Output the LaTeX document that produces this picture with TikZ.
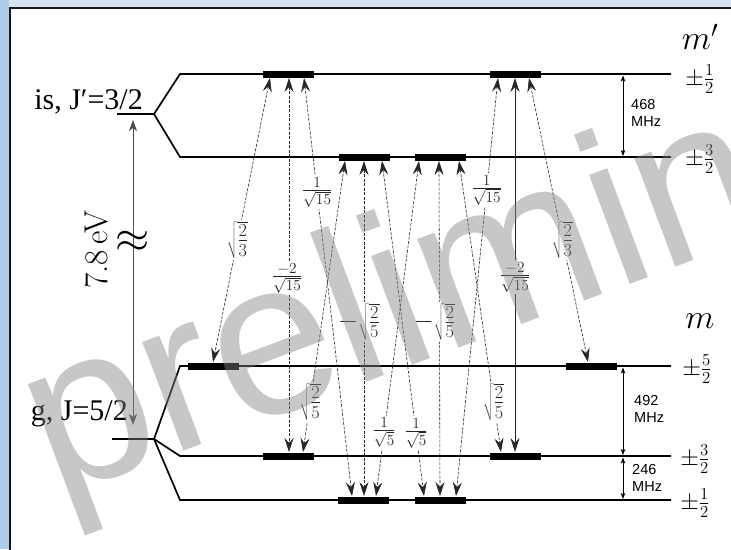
\RequirePackage{fix-cm}
\documentclass[tikz,border=0pt]{standalone}
\usepackage{fontspec}
\newfontfamily\serifT{Liberation Serif}
\newfontfamily\sansH{Liberation Sans}
\usetikzlibrary{arrows.meta,calc}
\definecolor{bgleft}{HTML}{B0CDE8}
\definecolor{bgtop}{HTML}{D6E3F0}
\tikzset{
  lvl/.style={line width=1.7pt},
  barbox/.style={fill=black, draw=none, minimum width=51pt, minimum height=7pt, inner sep=0pt, outer sep=0pt},
  cgtip/.tip={Stealth[length=14pt,width=9pt,inset=5pt]},
  smalltip/.tip={Stealth[length=6pt,width=4.5pt,inset=1.5pt]},
  midtip/.tip={Stealth[length=11pt,width=8pt,inset=3pt]},
  trans/.style={dash pattern=on 3pt off 1.5pt, line width=0.6pt, black!85, cgtip-cgtip},
  transsolid/.style={line width=0.6pt, black!85, cgtip-cgtip},
  cg/.style={fill=white, inner sep=2pt, font=\fontsize{22}{26}\selectfont},
  cgroot/.style={fill=white, inner sep=2pt, font=\fontsize{26}{30}\selectfont},
  mlabel/.style={font=\fontsize{24}{28}\selectfont, inner sep=0pt},
  mhead/.style={font=\fontsize{34}{36}\selectfont, inner sep=0pt},
  freq/.style={line width=0.7pt, smalltip-smalltip},
  freqlabel/.style={font=\sansH\fontsize{14.5}{17}\selectfont, align=left, anchor=west, inner sep=0pt},
  statelabel/.style={font=\serifT\fontsize{30}{32}\selectfont, anchor=base east, inner sep=0pt},
}
\begin{document}
\begin{tikzpicture}[x=1pt,y=-1pt]
\useasboundingbox (0,0) rectangle (731,549);
\begin{scope}
\clip (0,0) rectangle (731,549);
\fill[bgtop] (0,0) rectangle (731,549);
\fill[bgleft] (0,0) rectangle (9,549);
\filldraw[fill=white, draw=black!90, line width=1.5pt] (9.75,7.75) rectangle (760,580);
\end{scope}

% excited state levels
\coordinate (isA) at (117,114);
\coordinate (isB) at (154,114);
\coordinate (e1L) at (180,74);  \coordinate (e1R) at (671,74);
\coordinate (e2L) at (180,157); \coordinate (e2R) at (671,157);
\draw[lvl] (isA) -- (isB) -- (e1L) -- (e1R);
\draw[lvl] (isB) -- (e2L) -- (e2R);

% ground state levels
\coordinate (gA) at (112,439);
\coordinate (gB) at (154,439);
\coordinate (g1L) at (180,366); \coordinate (g1R) at (671,366);
\coordinate (g2L) at (180,456); \coordinate (g2R) at (671,456);
\coordinate (g3L) at (180,500); \coordinate (g3R) at (671,500);
\draw[lvl] (gA) -- (gB) -- (g1L) -- (g1R);
\draw[lvl] (gB) -- (g2L) -- (g2R);
\draw[lvl] (gB) -- (g3L) -- (g3R);

% bars
\node[barbox] (b1) at (288.5,74) {};
\node[barbox] (b2) at (515.5,74) {};
\node[barbox] (b3) at (364,157) {};
\node[barbox] (b4) at (440.5,157) {};
\node[barbox] (b5) at (213.5,366) {};
\node[barbox] (b6) at (591,366) {};
\node[barbox] (b7) at (288.5,456) {};
\node[barbox] (b8) at (515.5,456) {};
\node[barbox] (b9) at (363.5,500) {};
\node[barbox] (b10) at (440,500) {};

% transition end points
\coordinate (At) at (270,78);  \coordinate (Ab) at (213,362);
\coordinate (Bt) at (289,78);  \coordinate (Bb) at (289,452);
\coordinate (Ct) at (304,78);  \coordinate (Cb) at (352,496);
\coordinate (Dt) at (345,161); \coordinate (Db) at (303,452);
\coordinate (Et) at (364,161); \coordinate (Eb) at (364,496);
\coordinate (Ft) at (382,161); \coordinate (Fb) at (424,496);
\coordinate (Gt) at (419,161); \coordinate (Gb) at (376,496);
\coordinate (Ht) at (439,161); \coordinate (Hb) at (440,496);
\coordinate (It) at (459,161); \coordinate (Ib) at (501,452);
\coordinate (Jt) at (498,78);  \coordinate (Jb) at (456,496);
\coordinate (Kt) at (515,78);  \coordinate (Kb) at (515,452);
\coordinate (Lt) at (529,78);  \coordinate (Lb) at (588,362);

\draw[trans] (At) -- node[cgroot, pos=0.570] {$\sqrt{\frac{2}{3}}$} (Ab);
\draw[trans] (Bt) -- node[cg, pos=0.535, xshift=-2pt] {$\frac{-2}{\sqrt{15}}$} (Bb);
\draw[trans] (Ct) -- node[cg, pos=0.273] {$\frac{1}{\sqrt{15}}$} (Cb);
\draw[trans] (Dt) -- node[cgroot, pos=0.828] {$\sqrt{\frac{2}{5}}$} (Db);
\draw[trans] (Et) -- node[cgroot, pos=0.48, xshift=-5pt] {$-\sqrt{\frac{2}{5}}$} (Eb);
\draw[trans] (Ft) -- node[cg, pos=0.812] {$\frac{1}{\sqrt{5}}$} (Fb);
\draw[trans] (Gt) -- node[cg, pos=0.81] {$\frac{1}{\sqrt{5}}$} (Gb);
\draw[trans] (Ht) -- node[cgroot, pos=0.48, xshift=-5pt] {$-\sqrt{\frac{2}{5}}$} (Hb);
\draw[trans] (It) -- node[cgroot, pos=0.828] {$\sqrt{\frac{2}{5}}$} (Ib);
\draw[trans] (Jt) -- node[cg, pos=0.268] {$\frac{1}{\sqrt{15}}$} (Jb);
\draw[transsolid] (Kt) -- node[cg, pos=0.533] {$\frac{-2}{\sqrt{15}}$} (Kb);
\draw[trans] (Lt) -- node[cgroot, pos=0.570] {$\sqrt{\frac{2}{3}}$} (Lb);

% energy gap arrow
\coordinate (enT) at (133,120);
\coordinate (enB) at (133,425);
\draw[line width=0.7pt, black!70, midtip-midtip] (enT) -- (enB);
\node[font=\fontsize{44}{44}\selectfont, inner sep=0pt] (brk) at (133,242) {$\approx$};
\node[rotate=90, font=\fontsize{33}{36}\selectfont, inner sep=0pt] (ev) at (96,250) {7.8\,eV};

% state labels
\node[statelabel] (isl) at (143,109) {is, J\char"2032=3/2};
\node[statelabel] (gl) at (128,420) {g, J=5/2};

% hyperfine splitting arrows
\coordinate (f1t) at (623,75.5);  \coordinate (f1b) at (623,156);
\coordinate (f2t) at (623,367.5); \coordinate (f2b) at (623,455);
\coordinate (f3t) at (623,457.5); \coordinate (f3b) at (623,499);
\draw[freq] (f1t) -- (f1b);
\draw[freq] (f2t) -- (f2b);
\draw[freq] (f3t) -- (f3b);
\node[freqlabel] (fl1) at (631,113) {468\\MHz};
\node[freqlabel] (fl2) at (634,409) {492\\MHz};
\node[freqlabel] (fl3) at (632,478) {246\\MHz};

% m labels
\node[mhead] (mp) at (700,37) {$m'$};
\node[mlabel] (m1) at (700,79) {$\pm\frac{1}{2}$};
\node[mlabel] (m2) at (700,159) {$\pm\frac{3}{2}$};
\node[mhead] (mm) at (700,321) {$m$};
\node[mlabel] (m3) at (697,369) {$\pm\frac{5}{2}$};
\node[mlabel] (m4) at (695,459) {$\pm\frac{3}{2}$};
\node[mlabel] (m5) at (695,503) {$\pm\frac{1}{2}$};

% watermark
\begin{scope}
\clip (0,0) rectangle (731,549);
\node[rotate=20.5, anchor=base west, text=black!48, opacity=0.45, font=\sansH\fontsize{220}{220}\selectfont, inner sep=0pt] (wm) at (55,499) {preliminary};
\end{scope}
\end{tikzpicture}
\end{document}
